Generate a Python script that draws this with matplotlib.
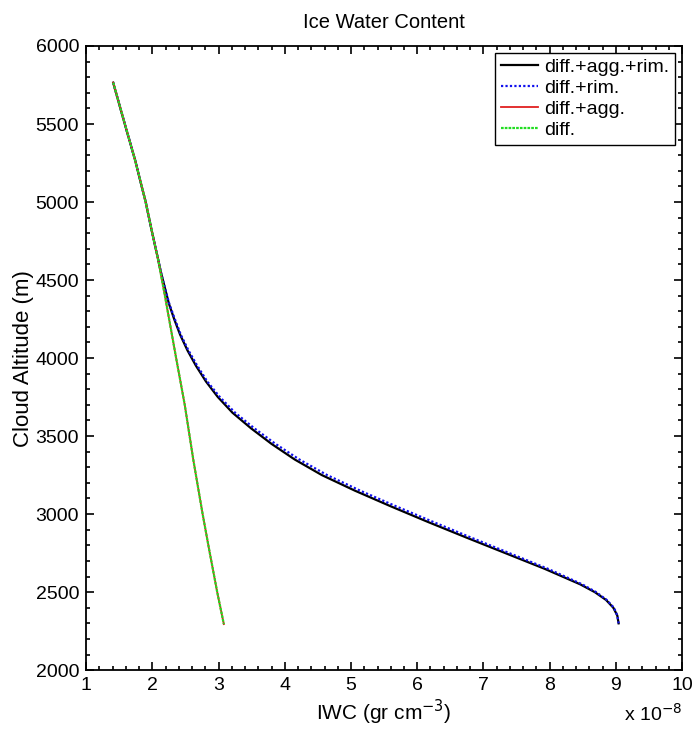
import matplotlib
matplotlib.use("Agg")
import matplotlib.pyplot as plt
from matplotlib.ticker import MultipleLocator

plt.rcParams['font.family'] = ['Liberation Sans', 'DejaVu Sans']

# altitude (m) and IWC (units of 1e-8 gr cm^-3)
alt_diff = [5765, 5500, 5269, 5000, 4800, 4628, 4400, 4000, 3700, 3346, 3000, 2769, 2500, 2295]
iwc_diff = [1.41, 1.585, 1.74, 1.90, 2.00, 2.09, 2.19, 2.36, 2.49, 2.62, 2.76, 2.86, 2.98, 3.08]

# diff.+agg. lies under diff.
alt_agg = alt_diff
iwc_agg = iwc_diff

alt_rim = [5765, 5500, 5269, 5000, 4800, 4628, 4550, 4450, 4350, 4250, 4150, 4050, 3950,
           3850, 3750, 3650, 3550, 3450, 3350, 3250, 3150, 3050, 2950, 2850, 2750, 2650,
           2550, 2500, 2450, 2400, 2350, 2300]
iwc_all = [1.41, 1.585, 1.74, 1.90, 2.00, 2.09, 2.13, 2.19, 2.25, 2.33, 2.42, 2.53, 2.66,
           2.81, 2.99, 3.21, 3.49, 3.80, 4.15, 4.56, 5.06, 5.60, 6.16, 6.74, 7.33, 7.92,
           8.46, 8.68, 8.85, 8.96, 9.02, 9.04]
iwc_rim = [1.41, 1.585, 1.74, 1.90, 2.00, 2.09, 2.13, 2.19, 2.255, 2.34, 2.43, 2.545, 2.68,
           2.83, 3.02, 3.25, 3.54, 3.86, 4.22, 4.64, 5.14, 5.68, 6.24, 6.81, 7.39, 7.97,
           8.49, 8.70, 8.86, 8.97, 9.02, 9.04]

fig = plt.figure(figsize=(6.94, 7.30), dpi=100)
ax = fig.add_axes([0.124, 0.082, 0.859, 0.855])

ax.plot(iwc_all, alt_rim, color='black', lw=1.6, label='diff.+agg.+rim.')
ax.plot(iwc_rim, alt_rim, color='#1010ee', lw=1.6, ls=(0, (1, 1)), label='diff.+rim.')
ax.plot(iwc_agg, alt_agg, color='#e02020', lw=1.3, label='diff.+agg.')
ax.plot(iwc_diff, alt_diff, color='#22dd22', lw=1.6, ls=(0, (1.2, 0.5)), label='diff.')

ax.set_xlim(1, 10)
ax.set_ylim(2000, 6000)
ax.xaxis.set_major_locator(MultipleLocator(1))
ax.xaxis.set_minor_locator(MultipleLocator(0.2))
ax.yaxis.set_major_locator(MultipleLocator(500))
ax.yaxis.set_minor_locator(MultipleLocator(100))
ax.tick_params(which='both', direction='in', top=True, right=True, labelsize=14, width=1.2)
ax.tick_params(which='major', length=6, pad=5)
ax.tick_params(which='minor', length=3)
for s in ax.spines.values():
    s.set_linewidth(1.3)

ax.set_title('Ice Water Content', fontsize=14.5, pad=13)
ax.set_xlabel('IWC (gr cm$^{-3}$)', fontsize=15, labelpad=3)
ax.set_ylabel('Cloud Altitude (m)', fontsize=16, labelpad=1)
ax.text(1.0, -0.07, 'x 10$^{-8}$', transform=ax.transAxes, ha='right', va='center', fontsize=14)

leg = ax.legend(loc='upper right', fontsize=14, handlelength=1.9, handletextpad=0.35,
                borderaxespad=0.35, labelspacing=0.17, borderpad=0.3, fancybox=False,
                framealpha=1)
leg.get_frame().set_edgecolor('black')
leg.get_frame().set_linewidth(1.0)

plt.savefig('out.png', dpi=100)
